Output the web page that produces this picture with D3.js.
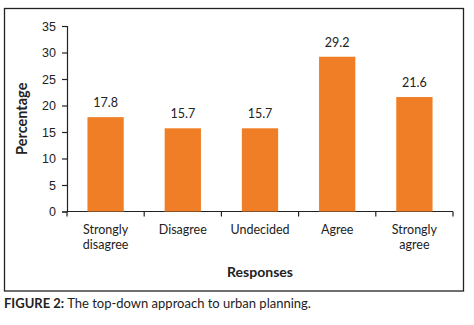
<!DOCTYPE html>
<html>
<head>
<meta charset="utf-8">
<script src="https://cdn.jsdelivr.net/npm/d3@7"></script>
<style>
  body { margin: 0; background: #fff; }
  svg { display: block; font-family: Lato, "Open Sans", sans-serif; }
</style>
</head>
<body>
<div id="chart"></div>
<script>
const categories = [["Strongly", "disagree"], ["Disagree"], ["Undecided"], ["Agree"], ["Strongly", "agree"]];
const percentages = [17.8, 15.7, 15.7, 29.2, 21.6];
const yTicks = [0, 5, 10, 15, 20, 25, 30, 35];

const width = 474, height = 325;
const margin = {top: 26, right: 21, bottom: 113.5, left: 67};
const innerWidth = width - margin.left - margin.right;
const innerHeight = height - margin.top - margin.bottom;

const svg = d3.select("#chart").append("svg")
    .attr("width", width)
    .attr("height", height);

// Frame around the figure
svg.append("rect")
    .attr("x", 4.5).attr("y", 8.5)
    .attr("width", 459).attr("height", 282.5)
    .attr("fill", "none")
    .attr("stroke", "#222")
    .attr("stroke-width", 1.3);

const g = svg.append("g")
    .attr("transform", `translate(${margin.left},${margin.top})`);

const keys = categories.map(c => c.join(" "));
const x = d3.scaleBand().domain(keys).range([0, innerWidth]).paddingInner(0.53).paddingOuter(0.265);
const xTicksScale = d3.scaleBand().domain(keys).range([0, innerWidth]);
const y = d3.scaleLinear().domain([0, 35]).range([innerHeight, 0]);

// Y axis
const yAxis = g.append("g")
    .call(d3.axisLeft(y).tickValues(yTicks).tickSize(5).tickPadding(6));
yAxis.select(".domain").attr("stroke", "#222").attr("stroke-width", 1.2);
yAxis.selectAll(".tick line").attr("stroke", "#222").attr("stroke-width", 1.2);
yAxis.selectAll("text").style("font-size", "12.5px").attr("fill", "#222");

// X axis with ticks on band edges
const xAxis = g.append("g")
    .attr("transform", `translate(0,${innerHeight})`);
xAxis.append("line")
    .attr("x1", 0).attr("x2", innerWidth)
    .attr("stroke", "#222").attr("stroke-width", 1.2);
xAxis.selectAll(".xtick")
    .data(keys.concat(["end"]))
    .enter().append("line")
    .attr("x1", (d, i) => i < keys.length ? xTicksScale(d) : innerWidth)
    .attr("x2", (d, i) => i < keys.length ? xTicksScale(d) : innerWidth)
    .attr("y1", 0).attr("y2", 5)
    .attr("stroke", "#222").attr("stroke-width", 1.2);

const xLabels = xAxis.selectAll(".xlabel")
    .data(categories)
    .enter().append("text")
    .attr("text-anchor", "middle")
    .attr("x", (d, i) => xTicksScale(keys[i]) + xTicksScale.bandwidth() / 2)
    .attr("y", 22)
    .style("font-size", "12.5px")
    .attr("fill", "#222");
xLabels.selectAll("tspan")
    .data(d => d)
    .enter().append("tspan")
    .attr("x", function() { return d3.select(this.parentNode).attr("x"); })
    .attr("dy", (d, i) => i === 0 ? 0 : 15.5)
    .text(d => d);

// Bars
g.selectAll(".bar")
    .data(percentages)
    .enter().append("rect")
    .attr("x", (d, i) => x(keys[i]))
    .attr("y", d => y(d))
    .attr("width", x.bandwidth())
    .attr("height", d => innerHeight - y(d))
    .attr("fill", "#f07e26");

// Value labels
g.selectAll(".val")
    .data(percentages)
    .enter().append("text")
    .attr("x", (d, i) => x(keys[i]) + x.bandwidth() / 2)
    .attr("y", d => y(d) - 10)
    .attr("text-anchor", "middle")
    .style("font-size", "12.5px")
    .attr("fill", "#222")
    .text(d => d.toFixed(1));

// Axis titles
g.append("text")
    .attr("transform", `translate(-40,${innerHeight / 2}) rotate(-90)`)
    .attr("text-anchor", "middle")
    .style("font-size", "14.5px")
    .style("font-weight", "bold")
    .attr("fill", "#222")
    .text("Percentage");

g.append("text")
    .attr("x", innerWidth / 2)
    .attr("y", innerHeight + 65)
    .attr("text-anchor", "middle")
    .style("font-size", "14px")
    .style("font-weight", "bold")
    .attr("fill", "#222")
    .text("Responses");

// Caption
const caption = svg.append("text")
    .attr("x", 4)
    .attr("y", 308)
    .style("font-size", "13px")
    .attr("fill", "#222");
caption.append("tspan").style("font-weight", "bold").text("FIGURE 2:");
caption.append("tspan").text(" The top-down approach to urban planning.");
</script>
</body>
</html>
